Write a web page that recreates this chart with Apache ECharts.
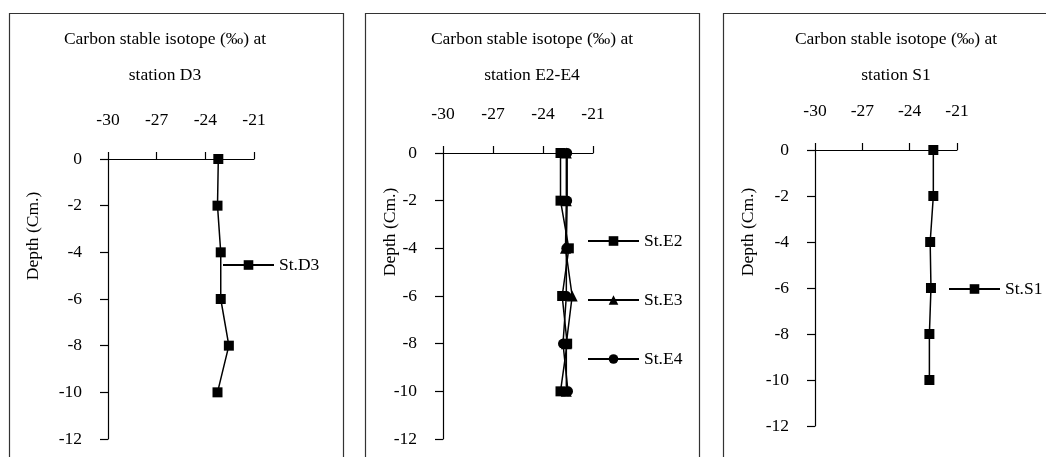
<!DOCTYPE html>
<html>
<head>
<meta charset="utf-8">
<script src="https://cdn.jsdelivr.net/npm/echarts@6/dist/echarts.min.js"></script>
<style>
  html, body { margin: 0; padding: 0; background: #fff; }
  #chart { width: 1046px; height: 457px; }
</style>
</head>
<body>
<div id="chart"></div>
<script>
// depth of each sample (cm)
const depths = [0, -2, -4, -6, -8, -10]
// carbon stable isotope values (‰)
const stD3 = [-23.2, -23.25, -23.05, -23.05, -22.55, -23.25]
const stE2 = [-22.95, -22.95, -22.45, -22.85, -22.55, -22.95]
const stE3 = [-22.6, -22.6, -22.65, -22.25, -22.6, -22.6]
const stE4 = [-22.55, -22.55, -22.6, -22.6, -22.8, -22.5]
const stS1 = [-22.5, -22.5, -22.7, -22.65, -22.75, -22.75]
const xTicks = [-30, -27, -24, -21]
const yTicks = [0, -2, -4, -6, -8, -10, -12]
const titles = ['station D3', 'station E2-E4', 'station S1']

const font = 'Liberation Serif, Times New Roman, serif'

const chart = echarts.init(document.getElementById('chart'))

// grid box and title centre for each panel
const panels = [
  { left: 108, top: 159, width: 146, height: 280, cx: 165, frame: 9, nameX: 33, nameY: 236 },
  { left: 443, top: 153, width: 150, height: 286, cx: 532, frame: 365, nameX: 390, nameY: 232 },
  { left: 815, top: 150, width: 142, height: 276, cx: 896, frame: 723, nameX: 748, nameY: 232 },
]

const pairs = (vals) => vals.map((v, i) => [v, depths[i]])

const makeSeries = (name, vals, idx, symbol, size) => ({
  name,
  type: 'line',
  xAxisIndex: idx,
  yAxisIndex: idx,
  data: pairs(vals),
  symbol,
  symbolSize: size,
  color: '#000',
  lineStyle: { color: '#000', width: 1.5 },
  itemStyle: { color: '#000' },
  animation: false,
})

const makeLegend = (name, left, cy) => ({
  data: [name],
  left,
  top: cy - 8,
  padding: 0,
  itemWidth: 51,
  itemHeight: 12,
  itemGap: 0,
  textStyle: { fontFamily: font, fontSize: 17.5, color: '#000' },
})

const option = {
  backgroundColor: '#fff',
  animation: false,
  title: panels.map((p, i) => ({
    text: 'Carbon stable isotope (‰) at\n' + titles[i],
    left: p.cx,
    top: 21,
    textAlign: 'center',
    padding: 0,
    textStyle: { fontFamily: font, fontSize: 17.5, fontWeight: 'normal', color: '#000', lineHeight: 36 },
  })),
  grid: panels.map((p) => ({ left: p.left, top: p.top, width: p.width, height: p.height })),
  xAxis: panels.map((p, i) => ({
    type: 'value',
    gridIndex: i,
    position: 'top',
    min: xTicks[0],
    max: xTicks[xTicks.length - 1],
    interval: 3,
    axisLine: { show: true, onZero: false, lineStyle: { color: '#000', width: 1.2 } },
    axisTick: { show: true, length: 7, lineStyle: { color: '#000', width: 1.2 } },
    axisLabel: { margin: 30, fontFamily: font, fontSize: 17.5, color: '#000' },
    splitLine: { show: false },
  })),
  yAxis: panels.map((p, i) => ({
    type: 'value',
    gridIndex: i,
    min: yTicks[yTicks.length - 1],
    max: yTicks[0],
    interval: 2,
    axisLine: { show: true, onZero: false, lineStyle: { color: '#000', width: 1.2 } },
    axisTick: { show: true, length: 8, lineStyle: { color: '#000', width: 1.2 } },
    axisLabel: { margin: 26, fontFamily: font, fontSize: 17.5, color: '#000' },
    splitLine: { show: false },
  })),
  legend: [
    makeLegend('St.D3', 222, 264),
    makeLegend('St.E2', 587, 240),
    makeLegend('St.E3', 587, 299),
    makeLegend('St.E4', 587, 358),
    makeLegend('St.S1', 948, 288),
  ],
  series: [
    makeSeries('St.D3', stD3, 0, 'rect', 10),
    makeSeries('St.E2', stE2, 1, 'rect', 10),
    makeSeries('St.E3', stE3, 1, 'triangle', 11),
    makeSeries('St.E4', stE4, 1, 'circle', 10),
    makeSeries('St.S1', stS1, 2, 'rect', 10),
  ],
  graphic: [
    ...panels.map((p) => ({
      type: 'rect',
      shape: { x: p.frame + 0.5, y: 13.5, width: 334, height: 470 },
      style: { fill: null, stroke: '#333', lineWidth: 1.2 },
      silent: true,
    })),
    ...panels.map((p) => ({
      type: 'text',
      x: p.nameX,
      y: p.nameY,
      rotation: Math.PI / 2,
      style: {
        text: 'Depth (Cm.)',
        font: '17.5px ' + font,
        fill: '#000',
        textAlign: 'center',
        textVerticalAlign: 'middle',
      },
      silent: true,
    })),
  ],
}

chart.setOption(option)
</script>
</body>
</html>
